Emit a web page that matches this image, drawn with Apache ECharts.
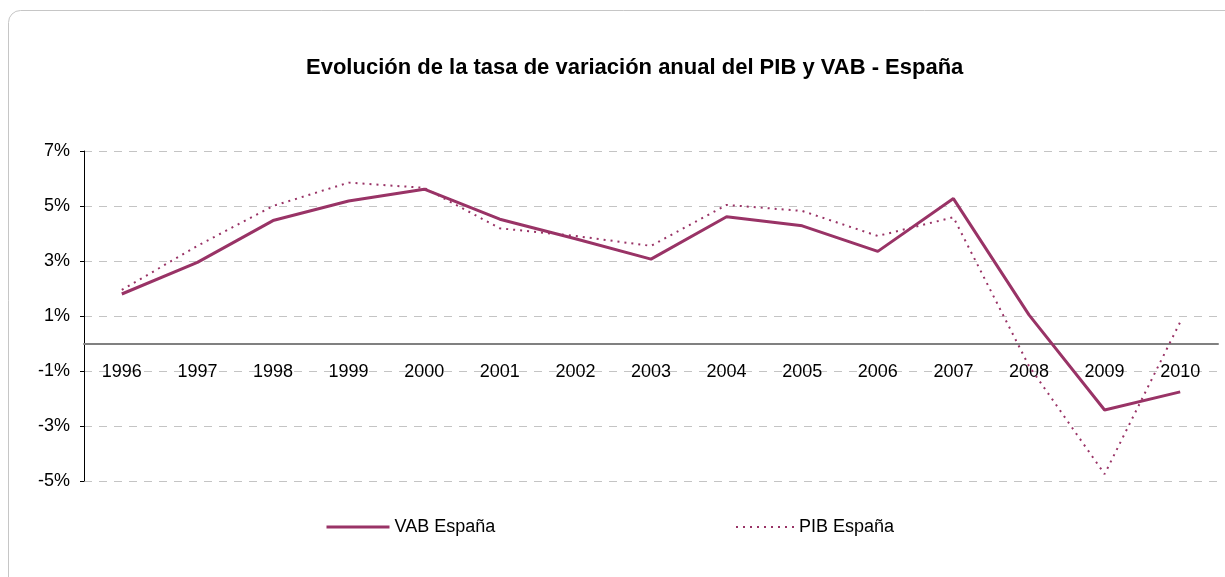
<!DOCTYPE html>
<html>
<head>
<meta charset="utf-8">
<script src="https://cdn.jsdelivr.net/npm/echarts@6/dist/echarts.min.js"></script>
<style>html,body{margin:0;padding:0;background:#fff}#c{width:1225px;height:577px}</style>
</head>
<body>
<div id="c"></div>
<script>
var years = ['1996','1997','1998','1999','2000','2001','2002','2003','2004','2005','2006','2007','2008','2009','2010'];
var vab = [1.80, 2.95, 4.47, 5.18, 5.61, 4.52, 3.81, 3.07, 4.61, 4.28, 3.35, 5.27, 1.04, -2.42, -1.76];
var pib = [1.95, 3.55, 5.00, 5.85, 5.66, 4.19, 3.91, 3.55, 5.04, 4.82, 3.91, 4.59, -0.82, -4.75, 0.78];
var yTicks = [-5, -3, -1, 1, 3, 5, 7];
var titleText = 'Evolución de la tasa de variación anual del PIB y VAB - España';
var color = '#993366';
var font = 'Liberation Sans, Arial, sans-serif';

var chart = echarts.init(document.getElementById('c'));
chart.setOption({
  backgroundColor: '#fff',
  animation: false,
  graphic: [{
    type: 'rect', shape: {x: 8.5, y: 10.5, width: 1240, height: 620, r: 12},
    style: {fill: 'none', stroke: '#c6c6c6', lineWidth: 1}, silent: true, z: -1
  }],
  title: {
    text: titleText, left: 301, top: 52,
    textStyle: {fontFamily: font, fontSize: 22, fontWeight: 'bold', color: '#000'}
  },
  legend: [{
    data: ['VAB España'], left: 325, top: 518, padding: 0, itemWidth: 63, itemHeight: 14, itemGap: 0,
    itemStyle: {color: 'transparent', borderWidth: 0, opacity: 0},
    lineStyle: {width: 3},
    textStyle: {fontFamily: font, fontSize: 18, color: '#000'}
  }, {
    data: ['PIB España'], left: 735, top: 518, padding: 0, itemWidth: 58, itemHeight: 14, itemGap: 0,
    itemStyle: {color: 'transparent', borderWidth: 0, opacity: 0},
    textStyle: {fontFamily: font, fontSize: 18, color: '#000'}
  }],
  grid: {left: 84, right: 7, top: 151, bottom: 96, containLabel: false},
  xAxis: {
    type: 'category', data: years, boundaryGap: true,
    offset: -137.5,
    axisLine: {onZero: false, lineStyle: {color: '#808080', width: 2}},
    axisTick: {show: false},
    axisLabel: {fontFamily: font, fontSize: 18, color: '#000', margin: 20}
  },
  yAxis: {
    type: 'value', min: -5, max: 7, interval: 2,
    axisLine: {show: true, lineStyle: {color: '#000', width: 1}},
    axisTick: {show: true, length: 4, lineStyle: {color: '#000'}},
    axisLabel: {fontFamily: font, fontSize: 18, color: '#000', margin: 14,
      formatter: function (v) { return v + '%'; }},
    splitLine: {show: true, lineStyle: {color: '#c4c4c4', type: [8, 7], width: 1}}
  },
  series: [{
    name: 'VAB España', type: 'line', data: vab, symbol: 'none', smooth: false,
    lineStyle: {color: color, width: 3}, itemStyle: {color: color}, z: 3
  }, {
    name: 'PIB España', type: 'line', data: pib, symbol: 'none', smooth: false,
    lineStyle: {color: color, width: 2, type: [2, 5]}, itemStyle: {color: color}, z: 2
  }]
});
</script>
</body>
</html>
